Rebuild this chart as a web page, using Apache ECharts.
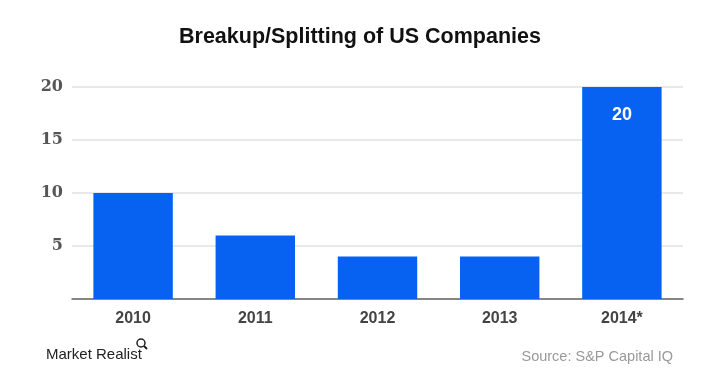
<!DOCTYPE html>
<html><head><meta charset="utf-8">
<script src="https://cdn.jsdelivr.net/npm/echarts@6/dist/echarts.min.js"></script>
<style>html,body{margin:0;padding:0;background:#fff}#c{width:705px;height:373px}</style>
</head><body><div id="c"></div>
<script>
const categories = ['2010', '2011', '2012', '2013', '2014*'];
const values = [10, 6, 4, 4, 20];
const yTicks = [0, 5, 10, 15, 20];
const labelledIndex = 4;

const chart = echarts.init(document.getElementById('c'));
chart.setOption({
  animation: false,
  title: [{
    text: 'Breakup/Splitting of US Companies',
    left: 174, top: 21,
    textStyle: { fontFamily: 'Liberation Sans, Arial', fontWeight: 'bold', fontSize: 21.5, color: '#111' }
  }, {
    text: 'Market Realist',
    left: 41, top: 342,
    textStyle: { fontFamily: 'Liberation Sans, Arial', fontWeight: 'normal', fontSize: 15, color: '#222' }
  }, {
    text: 'Source: S&P Capital IQ',
    right: 27, top: 344,
    textStyle: { fontFamily: 'Liberation Sans, Arial', fontWeight: 'normal', fontSize: 14.5, color: '#999' }
  }],
  graphic: [
    { type: 'circle', shape: { cx: 141, cy: 343, r: 4 }, style: { fill: 'none', stroke: '#222', lineWidth: 1.5 } },
    { type: 'line', shape: { x1: 144, y1: 346, x2: 147, y2: 349 }, style: { stroke: '#222', lineWidth: 2 } }
  ],
  grid: { left: 72, right: 22, top: 87, bottom: 74 },
  xAxis: {
    type: 'category', data: categories,
    axisLine: { lineStyle: { color: '#666', width: 1.5 } },
    axisTick: { show: false },
    axisLabel: { fontFamily: 'Liberation Sans, Arial', fontWeight: 'bold', fontSize: 16, color: '#444', margin: 12 }
  },
  yAxis: {
    type: 'value', min: 0, max: 20, interval: 5,
    axisLine: { show: false }, axisTick: { show: false },
    splitLine: { lineStyle: { color: '#e2e2e2', width: 1.5 } },
    axisLabel: {
      fontFamily: 'DejaVu Serif, serif', fontWeight: 'bold', fontSize: 16, color: '#555', margin: 9,
      formatter: v => yTicks.includes(v) && v !== 0 ? String(v) : ''
    }
  },
  series: [{
    type: 'bar', barWidth: '65%',
    data: values.map((v, i) => ({
      value: v,
      label: { show: i === labelledIndex, position: 'insideTop', distance: 19, color: '#fff',
        fontFamily: 'Liberation Sans, Arial', fontWeight: 'bold', fontSize: 18 }
    })),
    itemStyle: { color: '#0762f2' }
  }]
});
</script></body></html>
